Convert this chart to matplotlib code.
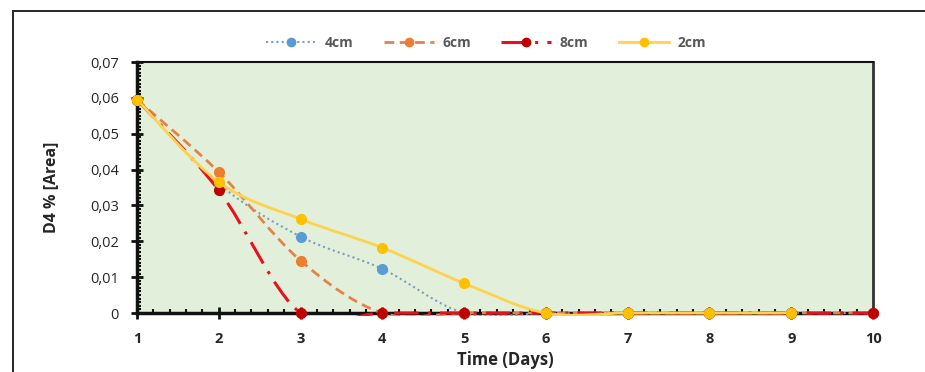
import numpy as np
import matplotlib.pyplot as plt
from matplotlib.path import Path
from matplotlib.patches import PathPatch, Rectangle
from matplotlib.lines import Line2D
from matplotlib.ticker import MultipleLocator, FuncFormatter
from matplotlib.transforms import Bbox, TransformedBbox

plt.rcParams['font.family'] = ['Open Sans', 'DejaVu Sans']

# Data
days = [1, 2, 3, 4, 5, 6, 7, 8, 9, 10]
d4_4cm = [0.0595, 0.0360, 0.0213, 0.0123, 0, 0, 0, 0, 0, 0]
d4_6cm = [0.0595, 0.0393, 0.0146, 0, 0, 0, 0, 0, 0, 0]
d4_8cm = [0.0595, 0.0342, 0, 0, 0, 0, 0, 0, 0, 0]
d4_2cm = [0.0595, 0.0365, 0.0262, 0.0182, 0.0083, 0, 0, 0, 0]

series = [
    ('4cm', d4_4cm, '#7F9DC0', '#5B9BD5', (0, (1, 1.5)), 1.5),
    ('6cm', d4_6cm, '#E2844A', '#ED7D31', (0, (3.5, 2)), 2.0),
    ('8cm', d4_8cm, '#E8101E', '#C00000', (0, (8, 3, 1, 3)), 2.2),
    ('2cm', d4_2cm, '#FFD24D', '#FFC000', '-', 2.0),
]


def smooth_path(x, y):
    # Excel style smoothed line: cubic Bezier through the points
    x = np.asarray(x, float)
    y = np.asarray(y, float)
    n = len(x)
    verts = [(x[0], y[0])]
    codes = [Path.MOVETO]
    for i in range(n - 1):
        p0 = np.array([x[max(i - 1, 0)], y[max(i - 1, 0)]])
        p1 = np.array([x[i], y[i]])
        p2 = np.array([x[i + 1], y[i + 1]])
        p3 = np.array([x[min(i + 2, n - 1)], y[min(i + 2, n - 1)]])
        c1 = p1 + (p2 - p0) / 6
        c2 = p2 - (p3 - p1) / 6
        verts += [tuple(c1), tuple(c2), tuple(p2)]
        codes += [Path.CURVE4] * 3
    return Path(verts, codes)


fig = plt.figure(figsize=(9.25, 3.72), dpi=100)
ax = fig.add_axes([0.1481, 0.1586, 0.7957, 0.6747])
ax.set_facecolor('#E2EFDA')

# outer chart border
fig.patches.append(Rectangle((13 / 925, -0.1), 1.2, 1 - 11 / 372 + 0.1,
                             transform=fig.transFigure, fill=False,
                             ec='#262626', lw=1.4, zorder=0))

# clip box: plot area, a little lower so lines along zero stay visible
clip = TransformedBbox(Bbox([[0, -0.012], [1.01, 1]]), ax.transAxes)

handles = []
for z, (name, vals, lc, mc, ls, lw) in enumerate(series):
    xs = days[:len(vals)]
    patch = PathPatch(smooth_path(xs, vals), fill=False, ec=lc, lw=lw,
                      linestyle=ls, zorder=3 + z)
    ax.add_patch(patch)
    patch.set_clip_box(clip)
    ax.plot(xs, vals, ls='none', marker='o', ms=7, color=mc, zorder=3 + z,
            clip_on=False)
    handles.append(Line2D([], [], color=lc, lw=lw, linestyle=ls, marker='o',
                          ms=6, mfc=mc, mec=mc, label=name))

ax.set_xlim(1, 10)
ax.set_ylim(0, 0.07)
ax.xaxis.set_major_locator(MultipleLocator(1))
ax.xaxis.set_minor_locator(MultipleLocator(0.2))
ax.yaxis.set_major_locator(MultipleLocator(0.01))
ax.yaxis.set_minor_locator(MultipleLocator(0.001))
ax.yaxis.set_major_formatter(FuncFormatter(
    lambda v, p: '0' if abs(v) < 1e-9 else f'{v:.2f}'.replace('.', ',')))

ax.tick_params(axis='both', which='major', direction='inout', length=8,
               width=2, colors='#111111', labelcolor='#262626')
ax.tick_params(axis='both', which='minor', direction='in', length=3,
               width=1.5, colors='#111111')
ax.tick_params(axis='x', labelsize=10.5, pad=10)
ax.tick_params(axis='y', labelsize=10.5, pad=9)
for lab in ax.get_xticklabels():
    lab.set_fontweight('bold')

for s in ['left', 'bottom']:
    ax.spines[s].set_linewidth(2.5)
    ax.spines[s].set_color('#111111')
ax.spines['top'].set_linewidth(1.5)
ax.spines['top'].set_color('#111111')
ax.spines['right'].set_linewidth(2)
ax.spines['right'].set_color('#333333')

ax.set_xlabel('Time (Days)', fontsize=12, fontweight='bold', color='#262626',
              labelpad=3)
ax.set_ylabel('D4 % [Area]', fontsize=11.5, fontweight='bold', color='#262626',
              labelpad=22)

leg = fig.legend(handles=handles, loc='center', ncol=4,
                 bbox_to_anchor=(486 / 925, 1 - 43 / 372), frameon=False,
                 handlelength=3.6, columnspacing=2.2, handletextpad=0.6,
                 prop={'size': 10, 'weight': 'bold'})
for t in leg.get_texts():
    t.set_color('#595959')

fig.savefig('out.png', dpi=100)
